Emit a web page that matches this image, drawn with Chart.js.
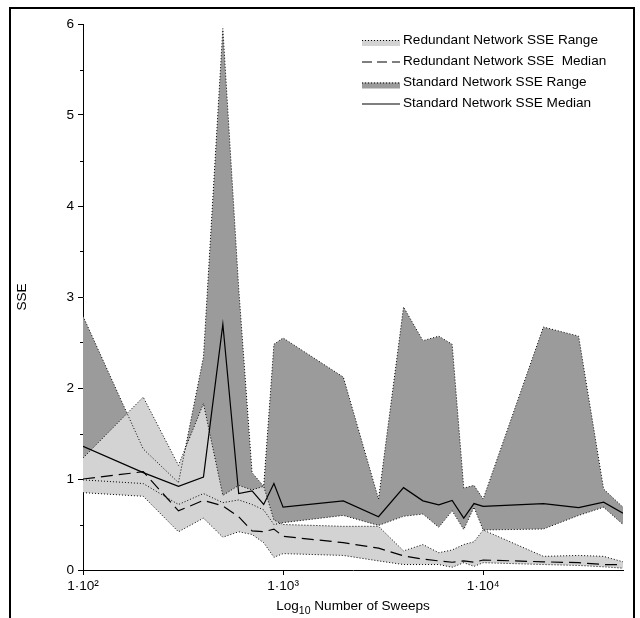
<!DOCTYPE html>
<html><head><meta charset="utf-8">
<script src="https://cdn.jsdelivr.net/npm/chart.js@4.4.1/dist/chart.umd.min.js"></script>
<style>
html,body{margin:0;padding:0;background:#fff;}
#wrap{position:relative;width:640px;height:618px;overflow:hidden;}
#frame{position:absolute;left:9px;top:7px;width:622px;height:700px;border:2px solid #000;pointer-events:none;}
canvas{display:block;}
</style></head><body>
<div id="wrap"><canvas id="c" width="640" height="618"></canvas><div id="frame"></div></div>
<script>
// ---- data ----
const sweeps = [100,200,300,400,500,600,700,800,900,1000,2000,3000,4000,5000,6000,7000,8000,9000,10000,20000,30000,40000,50000];
const redundantMax = [1.23,1.90,1.15,1.83,0.82,0.93,0.88,0.92,0.55,0.50,0.48,0.48,0.21,0.28,0.19,0.22,0.28,0.31,0.44,0.15,0.16,0.15,0.09];
const redundantMin = [0.85,0.81,0.42,0.57,0.36,0.42,0.39,0.30,0.14,0.18,0.16,0.10,0.06,0.06,0.06,0.03,0.08,0.04,0.08,0.06,0.05,0.035,0.02];
const redundantMedian = [1.00,1.08,0.65,0.765,0.705,0.585,0.43,0.42,0.45,0.37,0.30,0.24,0.155,0.12,0.10,0.085,0.10,0.085,0.11,0.09,0.08,0.06,0.06];
const standardMax = [2.79,1.33,0.96,2.34,5.95,3.10,1.07,0.92,2.48,2.55,2.12,0.78,2.89,2.52,2.57,2.48,0.90,0.93,0.78,2.67,2.57,0.89,0.69];
const standardMin = [0.99,0.95,0.72,0.84,0.74,0.77,0.72,0.66,0.50,0.52,0.60,0.49,0.59,0.615,0.47,0.65,0.445,0.69,0.44,0.45,0.60,0.69,0.50];
const standardMedian = [1.36,1.07,0.92,1.02,2.70,0.84,0.87,0.72,0.95,0.69,0.76,0.585,0.905,0.76,0.715,0.765,0.57,0.73,0.70,0.73,0.685,0.745,0.625];
const xTickValues = [100, 1000, 10000];
const xTickLabels = ['1·10²', '1·10³', '1·10⁴'];
const yMinorTicks = [0.5,1.5,2.5,3.5,4.5,5.5];
const legendLabels = ['Redundant Network SSE Range', 'Redundant Network SSE  Median', 'Standard Network SSE Range', 'Standard Network SSE Median'];
const xTitleParts = ['Log', '10', ' Number of Sweeps'];
const yTitle = 'SSE';

const LIGHT = '#d3d3d3', DARK = '#9b9b9b', INK = '#000';
const FONT = "'Liberation Sans', Arial, Helvetica, sans-serif";
const FS = 13.6;
const pts = arr => sweeps.map((s, i) => ({x: s, y: arr[i]}));
const dotted = [1, 2];

const legendPlugin = {
  id: 'customLegend',
  afterDraw(chart) {
    const ctx = chart.ctx;
    const x0 = 362, x1 = 400, tx = 403;
    const rows = [40, 61.5, 82.5, 103.5];
    ctx.save();
    ctx.font = FS + 'px ' + FONT;
    ctx.textBaseline = 'middle';
    ctx.fillStyle = INK;
    rows.forEach((y, i) => {
      ctx.save();
      if (i === 0 || i === 2) {
        ctx.fillStyle = i === 0 ? LIGHT : DARK;
        ctx.fillRect(x0, y, x1 - x0, 6);
        ctx.strokeStyle = INK; ctx.lineWidth = 1; ctx.setLineDash(dotted);
        ctx.beginPath(); ctx.moveTo(x0, y + 0.5); ctx.lineTo(x1, y + 0.5); ctx.stroke();
      } else {
        ctx.strokeStyle = INK; ctx.lineWidth = 1.2;
        ctx.setLineDash(i === 1 ? [10, 5] : []);
        ctx.beginPath(); ctx.moveTo(x0, y + 0.5); ctx.lineTo(x1, y + 0.5); ctx.stroke();
      }
      ctx.restore();
      ctx.fillText(legendLabels[i], tx, y);
    });
    ctx.restore();
  }
};

const extrasPlugin = {
  id: 'extras',
  afterDraw(chart) {
    const ys = chart.scales.y, ctx = chart.ctx, area = chart.chartArea;
    ctx.save();
    ctx.strokeStyle = INK; ctx.lineWidth = 1;
    yMinorTicks.forEach(v => {
      const py = Math.round(ys.getPixelForValue(v)) + 0.5;
      ctx.beginPath(); ctx.moveTo(area.left - 3, py); ctx.lineTo(area.left, py); ctx.stroke();
    });
    // x-axis title with subscript
    const big = FS + 'px ' + FONT, small = '10.5px ' + FONT;
    ctx.fillStyle = INK; ctx.textBaseline = 'alphabetic'; ctx.textAlign = 'left';
    ctx.font = big; const w0 = ctx.measureText(xTitleParts[0]).width, w2 = ctx.measureText(xTitleParts[2]).width;
    ctx.font = small; const w1 = ctx.measureText(xTitleParts[1]).width;
    let x = (area.left + area.right) / 2 - (w0 + w1 + w2) / 2;
    const base = 610;
    ctx.font = big; ctx.fillText(xTitleParts[0], x, base); x += w0;
    ctx.font = small; ctx.fillText(xTitleParts[1], x, base + 4); x += w1;
    ctx.font = big; ctx.fillText(xTitleParts[2], x, base);
    ctx.restore();
  }
};

const lineDefaults = {pointRadius: 0, tension: 0, borderColor: INK};

new Chart(document.getElementById('c'), {
  type: 'line',
  data: {
    datasets: [
      Object.assign({label: legendLabels[0], data: pts(redundantMax), borderWidth: 1, borderDash: dotted, backgroundColor: LIGHT, fill: 1}, lineDefaults),
      Object.assign({label: 'Redundant min', data: pts(redundantMin), borderWidth: 1, borderDash: dotted, fill: false}, lineDefaults),
      Object.assign({label: legendLabels[2], data: pts(standardMax), borderWidth: 1, borderDash: dotted, backgroundColor: DARK, fill: 3}, lineDefaults),
      Object.assign({label: 'Standard min', data: pts(standardMin), borderWidth: 1, borderDash: dotted, fill: false}, lineDefaults),
      Object.assign({label: legendLabels[1], data: pts(redundantMedian), borderWidth: 1.2, borderDash: [12, 6], fill: false}, lineDefaults),
      Object.assign({label: legendLabels[3], data: pts(standardMedian), borderWidth: 1.2, fill: false}, lineDefaults)
    ]
  },
  options: {
    responsive: false,
    animation: false,
    devicePixelRatio: 1,
    layout: {padding: {left: 0, right: 17, top: 24, bottom: 0}},
    plugins: {
      legend: {display: false},
      tooltip: {enabled: false},
      filler: {drawTime: 'beforeDatasetsDraw', propagate: false}
    },
    scales: {
      x: {
        type: 'logarithmic', min: 100, max: 50000,
        afterBuildTicks: s => { s.ticks = xTickValues.map(v => ({value: v, major: true})); },
        afterFit: s => { s.height = 48; },
        ticks: {autoSkip: false, maxRotation: 0, padding: 3, color: INK, font: {family: FONT, size: FS},
          callback: (v) => { const i = xTickValues.indexOf(v); return i >= 0 ? xTickLabels[i] : ''; }},
        grid: {drawOnChartArea: false, drawTicks: true, tickLength: 5, color: INK, lineWidth: 1},
        border: {display: true, color: INK, width: 1},
        title: {display: false}
      },
      y: {
        type: 'linear', min: 0, max: 6,
        afterFit: s => { s.width = 83; },
        ticks: {stepSize: 1, padding: 4, color: INK, font: {family: FONT, size: FS}},
        grid: {drawOnChartArea: false, drawTicks: true, tickLength: 5, color: INK, lineWidth: 1},
        border: {display: true, color: INK, width: 1},
        title: {display: true, text: yTitle, color: INK, font: {family: FONT, size: FS}, padding: {top: 14, bottom: 0}}
      }
    }
  },
  plugins: [legendPlugin, extrasPlugin]
});
</script>
</body></html>
